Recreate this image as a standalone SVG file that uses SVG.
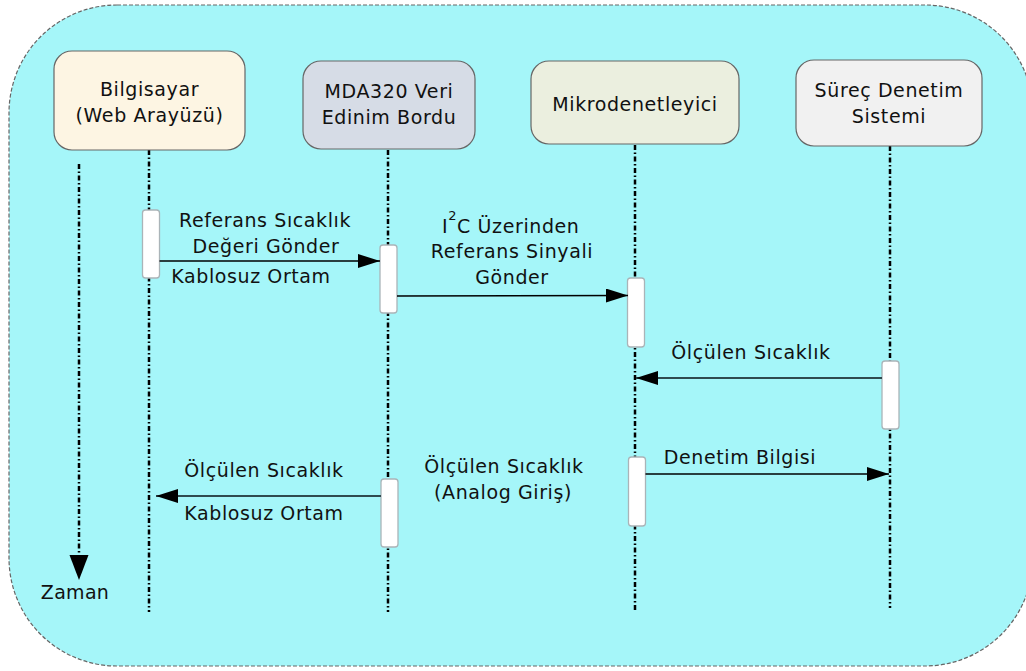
<svg xmlns="http://www.w3.org/2000/svg" width="1026" height="671" viewBox="0 0 1026 671">
  <style>
    text { font-family: "DejaVu Sans", Verdana, sans-serif; font-size: 19px; fill: #111; letter-spacing: 0.6px; }
    .mid { text-anchor: middle; }
    .head { stroke: #666; stroke-width: 1.2; }
    .life { fill: none; stroke: #000; stroke-width: 2.5; stroke-dasharray: 5 2.5 1.5 2.5; }
    .act { fill: #fff; stroke: #aab4b8; stroke-width: 1.3; }
    .msg { fill: none; stroke: #000; stroke-width: 1.5; }
    .msg2 { fill: none; stroke: #2f4a4f; stroke-width: 1.8; }
  </style>
  <defs>
    <marker id="tri" viewBox="0 0 22 14" refX="22" refY="7" markerWidth="22" markerHeight="14" markerUnits="userSpaceOnUse" orient="auto">
      <path d="M0,0 L22,7 L0,14 Z" fill="#000"/>
    </marker>
  </defs>

  <!-- frame -->
  <rect x="9" y="5" width="1024" height="661" rx="108" ry="108" fill="#a5f6f9" stroke="#666" stroke-width="1.2" stroke-dasharray="4 2"/>

  <!-- lifelines -->
  <g id="lifelines">
    <line class="life" x1="149" y1="150" x2="149" y2="612"/>
    <line class="life" x1="388" y1="150" x2="388" y2="612"/>
    <line class="life" x1="635" y1="145" x2="635" y2="612"/>
    <line class="life" x1="890" y1="146" x2="890" y2="608"/>
  </g>

  <!-- time axis -->
  <g id="time">
    <line class="life" x1="79" y1="164" x2="79" y2="556"/>
    <path d="M69.5,555 L88.5,555 L79,580 Z" fill="#000"/>
    <text class="mid" x="75" y="599" style="letter-spacing:0.3px">Zaman</text>
  </g>

  <!-- participants -->
  <g id="computer">
    <rect class="head" x="54" y="51" width="191" height="99" rx="18" fill="#fdf5e3"/>
    <text class="mid" x="149.5" y="96">Bilgisayar</text>
    <text class="mid" x="149.5" y="122">(Web Arayüzü)</text>
  </g>
  <g id="daq">
    <rect class="head" x="303" y="61" width="172" height="88" rx="18" fill="#d6dce6"/>
    <text class="mid" x="389" y="98">MDA320 Veri</text>
    <text class="mid" x="389" y="124">Edinim Bordu</text>
  </g>
  <g id="mcu">
    <rect class="head" x="531" y="61" width="208" height="83" rx="18" fill="#ebefdf"/>
    <text class="mid" x="635" y="111">Mikrodenetleyici</text>
  </g>
  <g id="process">
    <rect class="head" x="796" y="60" width="186" height="86" rx="18" fill="#f1f1f1"/>
    <text class="mid" x="889" y="97">Süreç Denetim</text>
    <text class="mid" x="889" y="123">Sistemi</text>
  </g>

  <!-- activation bars -->
  <g id="activations">
    <rect class="act" x="142.5" y="210" width="17" height="68" rx="3"/>
    <rect class="act" x="380" y="245" width="17" height="68" rx="3"/>
    <rect class="act" x="627.5" y="278" width="17" height="69" rx="3"/>
    <rect class="act" x="882" y="361" width="17" height="68" rx="3"/>
    <rect class="act" x="628.5" y="457" width="17" height="69" rx="3"/>
    <rect class="act" x="381" y="479" width="17" height="68" rx="3"/>
  </g>

  <!-- messages -->
  <g id="connectors">
    <line class="msg" x1="159.5" y1="261" x2="380" y2="261" marker-end="url(#tri)"/>
    <line class="msg" x1="397" y1="296" x2="628" y2="295.5" marker-end="url(#tri)"/>
    <line class="msg2" x1="882" y1="378" x2="636" y2="378" marker-end="url(#tri)"/>
    <line class="msg" x1="645.5" y1="474" x2="889" y2="474" marker-end="url(#tri)"/>
    <line class="msg2" x1="381" y1="496" x2="156" y2="496" marker-end="url(#tri)"/>
  </g>

  <!-- message labels -->
  <g id="labels">
    <text class="mid" x="265" y="227">Referans Sıcaklık</text>
    <text class="mid" x="266" y="253">Değeri Gönder</text>
    <text class="mid" x="251" y="283">Kablosuz Ortam</text>

    <text x="442" y="233">I<tspan dy="-13" font-size="13">2</tspan><tspan dy="13">C Üzerinden</tspan></text>
    <text class="mid" x="512" y="258">Referans Sinyali</text>
    <text class="mid" x="512" y="284">Gönder</text>

    <text class="mid" x="751" y="359">Ölçülen Sıcaklık</text>
    <text class="mid" x="740" y="464">Denetim Bilgisi</text>

    <text class="mid" x="504" y="473">Ölçülen Sıcaklık</text>
    <text class="mid" x="503" y="499">(Analog Giriş)</text>

    <text class="mid" x="264" y="477">Ölçülen Sıcaklık</text>
    <text class="mid" x="264" y="520">Kablosuz Ortam</text>
  </g>
</svg>
